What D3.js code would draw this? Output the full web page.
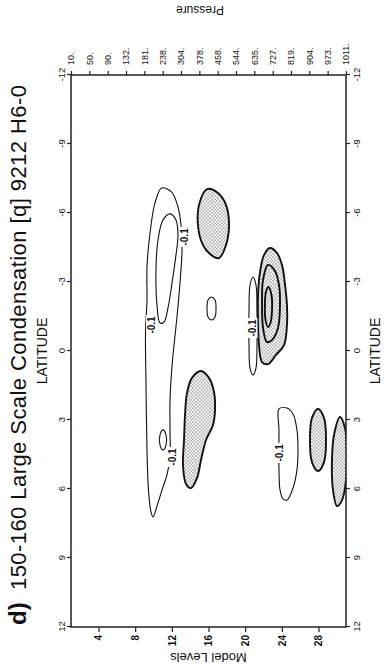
<!DOCTYPE html>
<html>
<head>
<meta charset="utf-8">
<script src="https://cdn.jsdelivr.net/npm/d3@7"></script>
<style>
  html, body { margin: 0; padding: 0; background: #fff; }
  svg { display: block; font-family: "Liberation Sans", Arial, sans-serif; }
</style>
</head>
<body>
<div id="chart"></div>
<script>
// the plot is drawn upright, then the whole thing is turned a quarter to the left
const latTicks = [-12, -9, -6, -3, 0, 3, 6, 9, 12];
const levelTicks = [4, 8, 12, 16, 20, 24, 28];
const pressureLevels = [1, 3, 5, 7, 9, 11, 13, 15, 17, 19, 21, 23, 25, 27, 29, 31];
const pressureLabels = ["10.", "50.", "90.", "132.", "181.", "238.", "304.", "378.", "458.", "544.", "635.", "727.", "819.", "904.", "973.", "1011."];

// contour outlines as [latitude, model level]
const stippleUpper = [[-7.04, 15.84], [-6.87, 17.04], [-6.35, 17.91], [-5.48, 18.24], [-4.61, 17.91], [-4.04, 17.15], [-4.22, 16.16], [-4.70, 15.29], [-5.48, 14.85], [-6.35, 14.96]];
const stippleLeft = [[0.87, 15.18], [1.17, 16.05], [1.78, 16.6], [2.57, 16.71], [3.22, 16.49], [3.87, 15.73], [4.74, 15.18], [5.52, 14.75], [5.96, 14.09], [5.78, 13.55], [5.0, 13.22], [3.87, 13.33], [2.78, 13.44], [1.83, 13.65], [1.17, 14.2]];
const stippleCentreOuter = [[-4.48, 22.71], [-4.26, 23.47], [-3.74, 24.02], [-2.87, 24.35], [-2.0, 24.56], [-1.13, 24.56], [-0.26, 24.24], [0.17, 23.36], [0.57, 22.49], [0.48, 21.84], [-0.26, 21.51], [-1.35, 21.4], [-2.43, 21.4], [-3.43, 21.62], [-4.17, 22.05]];
const stippleCentreMid = [[-3.74, 22.49], [-3.48, 23.25], [-2.87, 23.69], [-2.0, 23.8], [-1.0, 23.58], [-0.48, 22.93], [-0.39, 22.38], [-1.0, 21.95], [-2.22, 21.84], [-3.09, 21.95]];
const stippleCentreInner = [[-2.78, 22.55], [-2.43, 22.87], [-1.78, 22.93], [-1.22, 22.76], [-1.04, 22.49], [-1.35, 22.22], [-2.09, 22.16], [-2.57, 22.27]];
const stippleLowA = [[2.52, 27.95], [2.91, 28.6], [3.87, 28.82], [4.83, 28.6], [5.22, 27.95], [4.83, 27.29], [3.87, 27.07], [2.91, 27.29]];
const stippleLowB = [[2.87, 30.35], [3.35, 30.89], [4.30, 31.1], [5.61, 31.0], [6.48, 30.57], [6.74, 30.02], [6.04, 29.58], [4.74, 29.47], [3.65, 29.69]];

const negOuter = [[-7.09, 10.89], [-6.91, 11.98], [-6.26, 12.67], [-5.48, 13.0], [-4.39, 13.11], [-2.96, 12.89], [-1.48, 12.56], [-0.04, 12.18], [0.65, 12.02], [2.13, 11.8], [3.43, 11.8], [4.61, 11.8], [5.39, 11.47], [6.04, 10.93], [6.74, 10.38], [7.22, 9.95], [7.0, 9.73], [6.04, 9.45], [4.30, 9.29], [1.39, 9.18], [-0.78, 9.13], [-2.22, 9.29], [-3.65, 9.29], [-5.13, 9.62], [-6.43, 10.16]];
const negInner = [[-5.96, 11.8], [-5.7, 12.45], [-5.04, 12.67], [-4.17, 12.45], [-2.96, 12.02], [-1.87, 11.58], [-1.26, 11.15], [-1.22, 10.71], [-2.0, 10.38], [-3.52, 10.27], [-4.83, 10.49], [-5.7, 11.04]];
const negSmall = [[3.43, 11.04], [3.65, 11.36], [4.09, 11.36], [4.30, 11.04], [4.09, 10.71], [3.65, 10.71]];
const negDot = [[-2.35, 16.33], [-2.22, 16.71], [-1.87, 16.82], [-1.48, 16.71], [-1.35, 16.33], [-1.48, 15.95], [-1.87, 15.84], [-2.22, 15.95]];
const negNarrow = [[-3.22, 20.85], [-2.87, 21.18], [-1.78, 21.29], [-0.26, 21.29], [0.74, 21.18], [1.04, 20.85], [0.74, 20.53], [-0.26, 20.42], [-1.78, 20.42], [-2.87, 20.53]];
const negLower = [[2.52, 23.69], [2.48, 24.56], [2.74, 25.22], [3.43, 25.65], [4.30, 25.76], [5.17, 25.65], [5.96, 25.22], [6.48, 24.56], [6.43, 24.13], [6.04, 23.8], [5.17, 23.69], [3.43, 23.69]];

const shadedContours = [stippleUpper, stippleLeft, stippleCentreOuter, stippleCentreMid, stippleCentreInner, stippleLowA, stippleLowB];
const thinContours = [negOuter, negInner, negSmall, negDot, negNarrow, negLower];

const labelPoints = [[-1.13, 9.73], [-4.96, 13.33], [4.61, 12.02], [-1.0, 20.8], [4.43, 23.7]];
const labelText = "-0.1";

const W = 384, H = 666;

const svg = d3.select("#chart").append("svg")
  .attr("width", W)
  .attr("height", H);

const defs = svg.append("defs");

const dots = defs.append("pattern")
  .attr("id", "dots")
  .attr("patternUnits", "userSpaceOnUse")
  .attr("width", 3.4)
  .attr("height", 3.4);
dots.append("rect").attr("width", 3.4).attr("height", 3.4).attr("fill", "#fff");
dots.append("circle").attr("cx", 0.85).attr("cy", 0.85).attr("r", 0.55).attr("fill", "#222");
dots.append("circle").attr("cx", 2.55).attr("cy", 2.55).attr("r", 0.55).attr("fill", "#222");

defs.append("clipPath")
  .attr("id", "frame")
  .append("rect")
  .attr("x", 39).attr("y", 71)
  .attr("width", 552).attr("height", 275);

// upright drawing area is H wide and W tall
const g = svg.append("g")
  .attr("transform", `translate(0,${H}) rotate(-90)`);

const x = d3.scaleLinear().domain([12, -12]).range([39, 591]);
const y = d3.scaleLinear().domain([1, 31]).range([71, 346]);

const line = d3.line()
  .x(d => x(d[0]))
  .y(d => y(d[1]))
  .curve(d3.curveCatmullRomClosed.alpha(0.5));

const plot = g.append("g").attr("clip-path", "url(#frame)");

plot.selectAll("path.shade")
  .data(shadedContours)
  .enter()
  .append("path")
  .attr("class", "shade")
  .attr("d", line)
  .attr("fill", "url(#dots)")
  .attr("stroke", "#111")
  .attr("stroke-width", 1.9);

plot.selectAll("path.thin")
  .data(thinContours)
  .enter()
  .append("path")
  .attr("class", "thin")
  .attr("d", line)
  .attr("fill", "none")
  .attr("stroke", "#111")
  .attr("stroke-width", 1.1);

const labels = plot.selectAll("g.lab")
  .data(labelPoints)
  .enter()
  .append("g")
  .attr("class", "lab")
  .attr("transform", d => `translate(${x(d[0])},${y(d[1])})`);

labels.append("rect")
  .attr("x", -10).attr("y", -5)
  .attr("width", 20).attr("height", 10)
  .attr("fill", "#fff");

labels.append("text")
  .attr("text-anchor", "middle")
  .attr("dy", "0.35em")
  .attr("font-size", 10)
  .attr("font-weight", "bold")
  .attr("fill", "#111")
  .text(labelText);

// frame
g.append("rect")
  .attr("x", 39).attr("y", 71)
  .attr("width", 552).attr("height", 275)
  .attr("fill", "none")
  .attr("stroke", "#222")
  .attr("stroke-width", 1.5);

function styleAxis(sel, size) {
  sel.select(".domain").remove();
  sel.selectAll("line").attr("stroke", "#222").attr("stroke-width", 1.2);
  sel.selectAll("text")
    .attr("font-size", size)
    .attr("font-family", "'Liberation Sans', Arial, sans-serif")
    .attr("fill", "#111");
}

g.append("g")
  .attr("transform", "translate(0,71)")
  .call(d3.axisTop(x).tickValues(latTicks).tickFormat(d => String(d)).tickSize(4).tickPadding(2))
  .call(s => styleAxis(s, 9.5));

g.append("g")
  .attr("transform", "translate(0,346)")
  .call(d3.axisBottom(x).tickValues(latTicks).tickFormat(d => String(d)).tickSize(4).tickPadding(3))
  .call(s => styleAxis(s, 9.5));

g.append("g")
  .attr("transform", "translate(39,0)")
  .call(d3.axisLeft(y).tickValues(levelTicks).tickFormat(d => String(d)).tickSize(5).tickPadding(3))
  .call(s => styleAxis(s, 10))
  .selectAll("text").attr("font-weight", "bold");

g.append("g")
  .attr("transform", "translate(591,0)")
  .call(d3.axisRight(y).tickValues(pressureLevels).tickFormat((d, i) => pressureLabels[i]).tickSize(4).tickPadding(6))
  .call(s => styleAxis(s, 9));

// titles
g.append("text")
  .attr("x", 41).attr("y", 26)
  .attr("font-size", 24)
  .attr("font-weight", "bold")
  .attr("fill", "#111")
  .text("d)");

g.append("text")
  .attr("x", 76).attr("y", 26)
  .attr("font-size", 22)
  .attr("fill", "#111")
  .attr("textLength", 505)
  .attr("lengthAdjust", "spacing")
  .text("150-160  Large Scale Condensation [q] 9212 H6-0");

g.append("text")
  .attr("x", x(0)).attr("y", 47)
  .attr("text-anchor", "middle")
  .attr("font-size", 14)
  .attr("fill", "#111")
  .text("LATITUDE");

g.append("text")
  .attr("x", x(0)).attr("y", 380)
  .attr("text-anchor", "middle")
  .attr("font-size", 14)
  .attr("fill", "#111")
  .text("LATITUDE");

g.append("text")
  .attr("transform", `translate(13,${(71 + 346) / 2}) rotate(-90)`)
  .attr("text-anchor", "middle")
  .attr("font-size", 13)
  .attr("fill", "#111")
  .text("Model Levels");

g.append("text")
  .attr("transform", "translate(660,200) rotate(-90)")
  .attr("text-anchor", "middle")
  .attr("font-size", 12)
  .attr("fill", "#111")
  .text("Pressure");
</script>
</body>
</html>
